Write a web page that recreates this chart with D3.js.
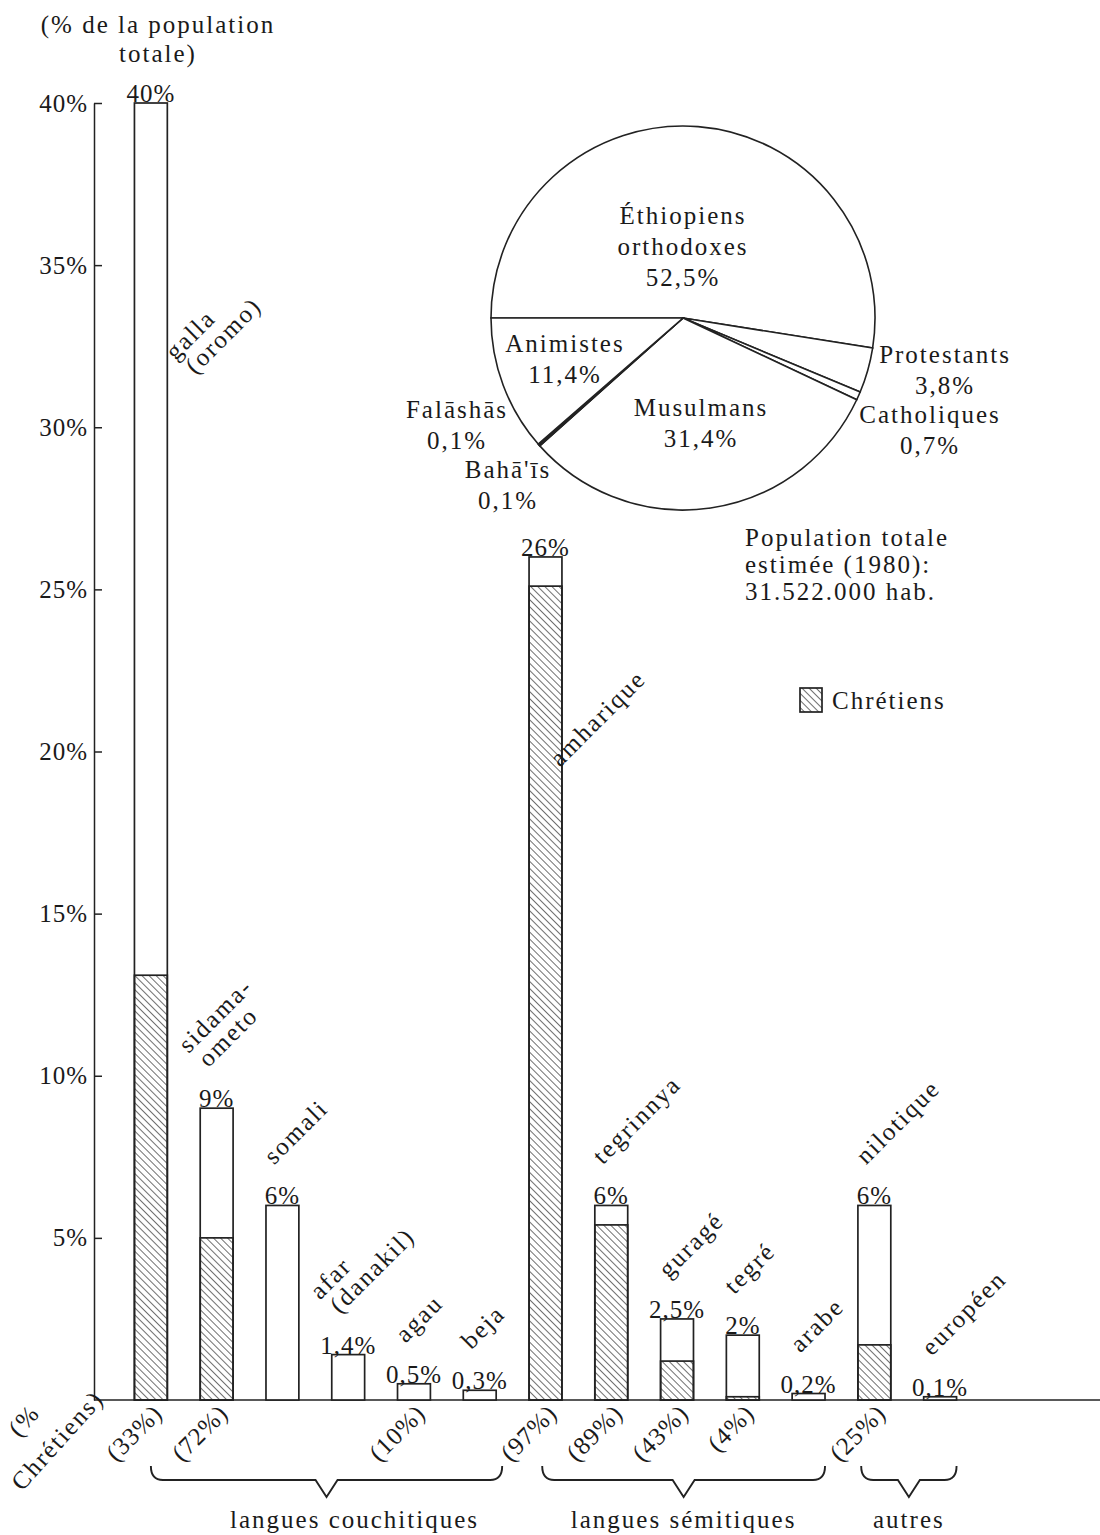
<!DOCTYPE html>
<head>
<meta charset="utf-8">
<title>Langues et religions - Éthiopie</title>
<script src="https://d3js.org/d3.v7.min.js"></script>
<style>
body { margin: 0; background: #fff; }
text {
  font-family: "Liberation Serif", "DejaVu Serif", serif;
  fill: #1a1a1a;
}
.axis path, .axis line {
  stroke: #222;
  stroke-width: 1.5;
}
.axis text {
  font-size: 25px;
  letter-spacing: 1px;
  font-family: "Liberation Serif", serif;
  fill: #1a1a1a;
}
.bar { fill: #fff; stroke: #222; stroke-width: 1.7; }
.hatch { fill: url(#hatch); stroke: #222; stroke-width: 1.7; }
.slice { fill: #fff; stroke: #222; stroke-width: 1.6; }
.lbl { font-size: 25px; letter-spacing: 2px; }
.brace { fill: none; stroke: #222; stroke-width: 1.9; }
</style>
</head>
<body>
<div id="container"></div>
<script>

//------------------------ DATA ------------------------//

// langues (barres)
const categories = ["galla", "sidama", "somali", "afar", "agau", "beja",
  "amharique", "tegrinnya", "gurage", "tegre", "arabe", "nilotique", "europeen"];
const nameLabels = [["galla", "(oromo)"], ["sidama-", "ometo"], ["somali"], ["afar", "(danakil)"],
  ["agau"], ["beja"], ["amharique"], ["tegrinnya"], ["guragé"], ["tegré"], ["arabe"],
  ["nilotique"], ["européen"]];
// % de la population totale
const totalShare = [40, 9, 6, 1.4, 0.5, 0.3, 26, 6, 2.5, 2, 0.2, 6, 0.1];
const valueLabels = ["40%", "9%", "6%", "1,4%", "0,5%", "0,3%", "26%", "6%", "2,5%", "2%", "0,2%", "6%", "0,1%"];
// partie hachurée (chrétiens), telle que dessinée
const christianShare = [13.1, 5.0, 0, 0, 0, 0, 25.1, 5.4, 1.2, 0.1, 0, 1.7, 0];
const christianLabels = ["(33%)", "(72%)", "", "", "(10%)", "", "(97%)", "(89%)", "(43%)", "(4%)", "", "(25%)", ""];

const yTicks = [5, 10, 15, 20, 25, 30, 35, 40];
const yTickLabels = ["5%", "10%", "15%", "20%", "25%", "30%", "35%", "40%"];

// familles de langues
const groupNames = ["langues couchitiques", "langues sémitiques", "autres"];
const groupFirst = ["galla", "amharique", "nilotique"];
const groupLast = ["beja", "arabe", "europeen"];

// religions (camembert)
const religions = ["Éthiopiens orthodoxes", "Protestants", "Catholiques", "Musulmans", "Bahā'īs", "Falāshās", "Animistes"];
const religionShare = [52.5, 3.8, 0.7, 31.4, 0.1, 0.1, 11.4];
const religionLabels = [["Éthiopiens", "orthodoxes", "52,5%"], ["Protestants", "3,8%"], ["Catholiques", "0,7%"],
  ["Musulmans", "31,4%"], ["Bahā'īs", "0,1%"], ["Falāshās", "0,1%"], ["Animistes", "11,4%"]];

const noteLines = ["Population totale", "estimée (1980):", "31.522.000 hab."];

//------------------------ SVG ------------------------//

const W = 1100, H = 1535;
const svg = d3.select("#container").append("svg")
    .attr("width", W).attr("height", H);

const defs = svg.append("defs");
defs.append("pattern")
    .attr("id", "hatch")
    .attr("patternUnits", "userSpaceOnUse")
    .attr("width", 5).attr("height", 5)
    .attr("patternTransform", "rotate(-45)")
  .append("line")
    .attr("x1", 0).attr("y1", 0).attr("x2", 0).attr("y2", 5)
    .attr("stroke", "#222").attr("stroke-width", 1.3);

//------------------------ SCALES ------------------------//

const axisX = 94, baseY = 1400;
const x = d3.scaleBand().domain(categories).range([118, 973]).paddingInner(0.5).paddingOuter(0.25);
const y = d3.scaleLinear().domain([0, 40]).range([baseY, 103]);
const bw = x.bandwidth();

//------------------------ AXES ------------------------//

const yaxis = d3.axisLeft(y)
    .tickValues(yTicks)
    .tickFormat((d, i) => yTickLabels[i])
    .tickSizeInner(-8)
    .tickSizeOuter(0)
    .tickPadding(6);

svg.append("g")
    .attr("class", "axis")
    .attr("transform", "translate(" + axisX + ",0)")
    .call(yaxis);

// ligne de base
svg.append("line")
    .attr("x1", axisX).attr("x2", W)
    .attr("y1", baseY).attr("y2", baseY)
    .attr("stroke", "#222").attr("stroke-width", 1.7);

// titre de l'axe
svg.append("text").attr("class", "lbl")
    .attr("x", 158).attr("y", 33).attr("text-anchor", "middle")
    .text("(% de la population");
svg.append("text").attr("class", "lbl")
    .attr("x", 158).attr("y", 62).attr("text-anchor", "middle")
    .text("totale)");

//------------------------ BARS ------------------------//

const bars = svg.selectAll(".barg")
    .data(categories)
    .enter().append("g").attr("class", "barg");

bars.append("rect")
    .attr("class", "bar")
    .attr("x", d => x(d))
    .attr("width", bw)
    .attr("y", (d, i) => y(totalShare[i]))
    .attr("height", (d, i) => baseY - y(totalShare[i]));

bars.filter((d, i) => christianShare[i] > 0).append("rect")
    .attr("class", "hatch")
    .attr("x", d => x(d))
    .attr("width", bw)
    .attr("y", d => y(christianShare[categories.indexOf(d)]))
    .attr("height", d => baseY - y(christianShare[categories.indexOf(d)]));

// valeurs au-dessus des barres
bars.append("text").attr("class", "lbl")
    .attr("x", d => x(d) + bw / 2)
    .attr("y", (d, i) => y(totalShare[i]) - 1)
    .attr("text-anchor", "middle")
    .style("letter-spacing", "1px")
    .text((d, i) => valueLabels[i]);

// noms des langues (obliques)
const lineH = 24;
bars.each(function(d, i) {
    const g = d3.select(this);
    let ox = x(d) + 8, oy = y(totalShare[i]) - 40;
    if (d === "galla") { ox = x(d) + bw + 28; oy = y(31.6); }
    if (d === "amharique") { ox = x(d) + bw - 2; oy = y(19.5); }
    const lines = nameLabels[i];
    const t = g.append("g").attr("transform", "translate(" + ox + "," + oy + ") rotate(-45)");
    lines.forEach(function(s, k) {
        t.append("text").attr("class", "lbl")
            .attr("x", (k - (lines.length - 1)) * 4)
            .attr("y", (k - (lines.length - 1)) * lineH)
            .text(s);
    });
});

// % chrétiens sous les barres
bars.filter((d, i) => christianLabels[i] !== "").append("text")
    .attr("class", "lbl")
    .attr("text-anchor", "end")
    .style("letter-spacing", "1px")
    .attr("transform", d => "translate(" + (x(d) + bw / 2 + 13) + "," + (baseY + 15) + ") rotate(-45)")
    .text(d => christianLabels[categories.indexOf(d)]);

const ch = svg.append("g").attr("transform", "translate(" + 22 + "," + (baseY + 92) + ") rotate(-48)");
ch.append("text").attr("class", "lbl").attr("x", 38).attr("y", -38).text("(%");
ch.append("text").attr("class", "lbl").attr("x", 0).attr("y", 0).text("Chrétiens)");

//------------------------ BRACES ------------------------//

const braceY = 1480;
function bracePath(l, r) {
    const m = (l + r) / 2;
    const p = d3.path();
    p.moveTo(l, braceY - 14);
    p.quadraticCurveTo(l, braceY, l + 12, braceY);
    p.lineTo(m - 11, braceY);
    p.lineTo(m, braceY + 17);
    p.lineTo(m + 11, braceY);
    p.lineTo(r - 12, braceY);
    p.quadraticCurveTo(r, braceY, r, braceY - 14);
    return p.toString();
}
const braceL = [x(groupFirst[0]) + bw * 0.5, x(groupFirst[1]) + bw * 0.4, x(groupFirst[2]) + bw * 0.1];
const braceR = [x(groupLast[0]) + bw + 6, x(groupLast[1]) + bw, x(groupLast[2]) + bw];

groupNames.forEach(function(name, i) {
    svg.append("path").attr("class", "brace").attr("d", bracePath(braceL[i], braceR[i]));
    svg.append("text").attr("class", "lbl")
        .attr("x", (braceL[i] + braceR[i]) / 2 + (i === 0 ? 28 : 0))
        .attr("y", 1528)
        .attr("text-anchor", "middle")
        .text(name);
});

//------------------------ PIE ------------------------//

const cx = 683, cy = 318, R = 192;
const pie = d3.pie().sort(null).value(d => d)
    .startAngle(-Math.PI / 2).endAngle(1.5 * Math.PI);
const arc = d3.arc().innerRadius(0).outerRadius(R);
const pg = svg.append("g").attr("transform", "translate(" + cx + "," + cy + ")");
pg.selectAll("path")
    .data(pie(religionShare))
    .enter().append("path")
    .attr("class", "slice")
    .attr("d", arc);

// position des étiquettes (par rapport au centre)
const religionPos = [[0, -94], [262, 45], [247, 105], [18, 98], [-175, 160], [-226, 100], [-118, 34]];
religionLabels.forEach(function(lines, i) {
    lines.forEach(function(s, k) {
        pg.append("text").attr("class", "lbl")
            .attr("x", religionPos[i][0])
            .attr("y", religionPos[i][1] + k * 31)
            .attr("text-anchor", "middle")
            .text(s);
    });
});

// note population
noteLines.forEach(function(s, k) {
    svg.append("text").attr("class", "lbl")
        .attr("x", 745).attr("y", 546 + k * 27)
        .text(s);
});

// légende
svg.append("rect")
    .attr("x", 800).attr("y", 688).attr("width", 22).attr("height", 24)
    .attr("fill", "url(#hatch)").attr("stroke", "#222").attr("stroke-width", 1.7);
svg.append("text").attr("class", "lbl")
    .attr("x", 832).attr("y", 709)
    .text("Chrétiens");

</script>
</body>
